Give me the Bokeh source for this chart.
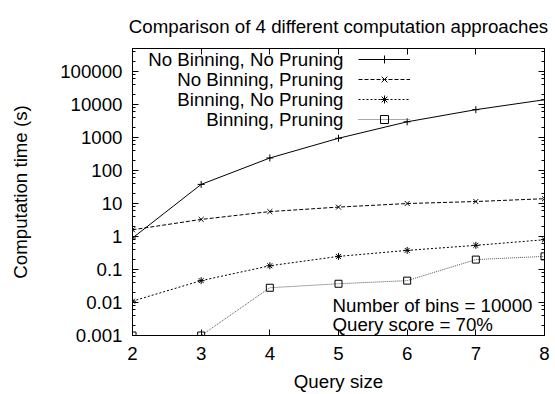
from bokeh.plotting import figure
from bokeh.models import (Range1d, LogAxis, LinearAxis, FixedTicker, Legend,
                          LegendItem, Label, ColumnDataSource)
from bokeh.embed import file_html
from bokeh.resources import INLINE

# ---- data ----
query_size = [2, 3, 4, 5, 6, 7, 8]
no_binning_no_pruning = [0.9, 38, 240, 950, 3000, 7000, 14000]
no_binning_pruning = [1.6, 3.3, 5.7, 7.8, 10, 11.5, 14]
binning_no_pruning = [0.011, 0.046, 0.13, 0.25, 0.38, 0.54, 0.8]
binning_pruning = [0.001, 0.001, 0.028, 0.037, 0.046, 0.2, 0.25]

series_names = ["No Binning, No Pruning", "No Binning, Pruning",
                "Binning, No Pruning", "Binning, Pruning"]
series_values = [no_binning_no_pruning, no_binning_pruning,
                 binning_no_pruning, binning_pruning]

xtick_values = [2, 3, 4, 5, 6, 7, 8]
ytick_values = [0.001, 0.01, 0.1, 1, 10, 100, 1000, 10000, 100000]
ytick_labels = ["0.001", "0.01", "0.1", "1", "10", "100", "1000", "10000", "100000"]
y_min, y_max = 0.001, 500000

title_text = "Comparison of 4 different computation approaches"
x_label = "Query size"
y_label = "Computation time (s)"
note_lines = ["Number of bins = 10000", "Query score = 70%"]

# ---- styles ----
FONT = "Liberation Sans"
FS = "18.7px"
markers = ["cross", "x", "asterisk", "square"]
dashes = ["solid", "4 2", "2 2", "1 1"]
line_colors = ["black", "black", "black", "#555555"]

minor = []
for v in ytick_values:
    for m in (2, 4, 6, 8):
        if v * m < y_max:
            minor.append(v * m)

p = figure(width=555, height=394, y_axis_type="log",
           x_range=Range1d(2, 8), y_range=Range1d(y_min, y_max),
           output_backend="svg", toolbar_location=None,
           min_border_left=132, min_border_right=11,
           min_border_top=48, min_border_bottom=58)
p.background_fill_color = "white"
p.border_fill_color = "white"
p.outline_line_color = "black"
p.outline_line_width = 1
p.xgrid.visible = False
p.ygrid.visible = False

p.title.text = title_text
p.title.align = "center"
p.title.text_font = FONT
p.title.text_font_size = FS
p.title.text_font_style = "normal"
p.title.text_color = "black"
p.title.standoff = 24

yt = FixedTicker(ticks=ytick_values, minor_ticks=minor)
xt = FixedTicker(ticks=xtick_values)


def style_axis(ax, labels=True):
    ax.axis_line_color = "black"
    ax.major_tick_in = 6
    ax.major_tick_out = 0
    ax.minor_tick_in = 3
    ax.minor_tick_out = 0
    ax.major_tick_line_color = "black"
    ax.minor_tick_line_color = "black"
    ax.major_label_text_font = FONT
    ax.major_label_text_color = "black"
    ax.major_label_text_font_size = FS
    ax.axis_label_text_font = FONT
    ax.axis_label_text_font_size = FS
    ax.axis_label_text_font_style = "normal"
    ax.axis_label_text_color = "black"
    if not labels:
        ax.major_label_text_font_size = "1px"
        ax.major_label_text_color = None
        ax.major_label_standoff = 0


xa = p.xaxis[0]
ya = p.yaxis[0]
xa.ticker = xt
ya.ticker = yt
style_axis(xa)
style_axis(ya)
xa.minor_tick_line_color = None
xa.axis_label = x_label
ya.axis_label = y_label
xa.major_label_standoff = 11
xa.axis_label_standoff = 8
ya.major_label_standoff = 10
ya.axis_label_standoff = 26
ya.major_label_overrides = {v: s for v, s in zip(ytick_values, ytick_labels)}

ra = LogAxis(ticker=FixedTicker(ticks=ytick_values, minor_ticks=minor))
style_axis(ra, labels=False)
p.add_layout(ra, "right")

ta = LinearAxis(ticker=FixedTicker(ticks=xtick_values))
style_axis(ta, labels=False)
ta.minor_tick_line_color = None
p.add_layout(ta, "above")

items = []
for name, vals, mk, dash, col in zip(series_names, series_values, markers, dashes, line_colors):
    src = ColumnDataSource(dict(x=query_size, y=vals))
    rl = p.line("x", "y", source=src, line_color=col, line_width=1, line_dash=dash)
    rp = p.scatter("x", "y", source=src, marker=mk, size=7, line_color="black",
                   fill_color=None, line_width=1)
    items.append(LegendItem(label=name, renderers=[rl, rp]))

legend = Legend(items=items, location=(226, 206), glyph_width=52, glyph_height=20,
                label_height=20, label_width=1, label_standoff=0, spacing=0,
                padding=0, margin=0, border_line_color=None,
                background_fill_alpha=0, label_text_font_size="1px",
                label_text_color=None)
p.add_layout(legend)

# legend texts, right-aligned before the samples (gnuplot style)
row_y = [276, 256, 236, 216]
for name, yy in zip(series_names, row_y):
    p.add_layout(Label(x=211, y=yy, x_units="screen", y_units="screen",
                       text=name, text_align="right", text_baseline="middle",
                       text_font=FONT, text_font_size=FS, text_color="black"))

for txt, yy in zip(note_lines, [30, 11]):
    p.add_layout(Label(x=200, y=yy, x_units="screen", y_units="screen",
                       text=txt, text_align="left", text_baseline="middle",
                       text_font=FONT, text_font_size=FS, text_color="black"))

open("out.html", "w").write(file_html(p, INLINE))
